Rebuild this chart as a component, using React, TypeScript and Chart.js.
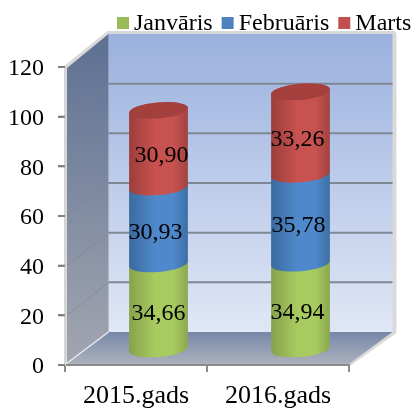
import React, { useEffect, useRef } from "react";
import { Chart, registerables } from "chart.js";

Chart.register(...registerables);

const categories = ["2015.gads", "2016.gads"];
const seriesNames = ["Janvāris", "Februāris", "Marts"];
const janvaris = [34.66, 34.94];
const februaris = [30.93, 35.78];
const marts = [30.9, 33.26];
const seriesValues = [janvaris, februaris, marts];
const legendColors = ["#9bbb59", "#4f81bd", "#c0504d"];
const shades = [
  ["#86a24c", "#a8cb60", "#8aa74f"],
  ["#3a6a9f", "#5089cb", "#3d6fa6"],
  ["#9c3e3b", "#c8524f", "#a04341"],
];
const capColor = "#a33f3c";
const labelNudges = [
  [[0, 0], [-3, 0]],
  [[-3, 0], [-2, 0]],
  [[3, 0], [-3, 0]],
];

const SERIF = "'Liberation Serif', 'Times New Roman', serif";
const DEPTH_X = 43.5;
const DEPTH_Y = 33;
const BAR_DX = 22.5;
const BAR_DY = 15;

const scene = {
  id: "scene3d",
  beforeDraw(chart: any) {
    const { ctx } = chart;
    const yS = chart.scales.y;
    const xS = chart.scales.x;
    const l = xS.left, r = xS.right, t = yS.top, b = yS.bottom;
    const dx = DEPTH_X, dy = DEPTH_Y;
    ctx.save();
    ctx.fillStyle = "#d9d9d9";
    ctx.beginPath();
    ctx.moveTo(l - 1, t - 1);
    ctx.lineTo(l + dx - 1, t - dy - 3);
    ctx.lineTo(r + dx + 2, t - dy - 3);
    ctx.lineTo(r + dx + 4, t - dy - 1);
    ctx.lineTo(r + dx + 4, b - dy + 1);
    ctx.lineTo(r + 1, b + 1);
    ctx.lineTo(l - 1, b + 1);
    ctx.closePath();
    ctx.fill();
    let g = ctx.createLinearGradient(0, t - dy, 0, b - dy);
    g.addColorStop(0, "#9ab1de");
    g.addColorStop(1, "#e0e7f6");
    ctx.fillStyle = g;
    ctx.fillRect(l + dx, t - dy, r - l, b - t);
    g = ctx.createLinearGradient(0, t - dy, 0, b);
    g.addColorStop(0, "#5d7093");
    g.addColorStop(1, "#a3a6b0");
    ctx.fillStyle = g;
    ctx.beginPath();
    ctx.moveTo(l + 2, t + 1);
    ctx.lineTo(l + dx, t - dy);
    ctx.lineTo(l + dx, b - dy);
    ctx.lineTo(l + 2, b);
    ctx.closePath();
    ctx.fill();
    g = ctx.createLinearGradient(0, b - dy, 0, b);
    g.addColorStop(0, "#7688a9");
    g.addColorStop(1, "#aeb2bd");
    ctx.fillStyle = g;
    ctx.beginPath();
    ctx.moveTo(l + 1, b - 1);
    ctx.lineTo(l + dx, b - dy);
    ctx.lineTo(r + dx, b - dy);
    ctx.lineTo(r, b - 1);
    ctx.closePath();
    ctx.fill();
    ctx.strokeStyle = "#e9ebf0";
    ctx.lineWidth = 1.5;
    ctx.beginPath();
    ctx.moveTo(l + 1, b - 1);
    ctx.lineTo(l + dx, b - dy);
    ctx.stroke();
    yS.ticks.forEach((tick: any) => {
      const y = yS.getPixelForValue(tick.value);
      if (tick.value === 0 || tick.value === 120) return;
      ctx.strokeStyle = "#7f8694";
      ctx.lineWidth = 2;
      ctx.beginPath();
      ctx.moveTo(l + dx, y - dy);
      ctx.lineTo(r + dx, y - dy);
      ctx.stroke();
      ctx.strokeStyle = "rgba(125,128,138,0.55)";
      ctx.lineWidth = 1;
      ctx.beginPath();
      ctx.moveTo(l + 2, y);
      ctx.lineTo(l + dx, y - dy);
      ctx.stroke();
    });
    ctx.restore();
  },
  afterDraw(chart: any) {
    const { ctx } = chart;
    const yS = chart.scales.y;
    const l = chart.scales.x.left;
    ctx.save();
    yS.ticks.forEach((tick: any) => {
      const y = yS.getPixelForValue(tick.value);
      ctx.strokeStyle = "#808080";
      ctx.lineWidth = 2;
      ctx.beginPath();
      ctx.moveTo(l - 7, y);
      ctx.lineTo(l, y);
      ctx.stroke();
    });
    ctx.restore();
  },
  beforeDatasetDraw() {
    return false;
  },
  afterDatasetsDraw(chart: any) {
    const { ctx } = chart;
    const rot = (-5 * Math.PI) / 180;
    const ry = 8;
    ctx.save();
    categories.forEach((_, ci) => {
      seriesValues.forEach((_v, si) => {
        const el = chart.getDatasetMeta(si).data[ci];
        const cx = el.x + BAR_DX;
        const yTop = el.y - BAR_DY;
        const yBase = el.base - BAR_DY;
        const rx = el.width / 2;
        const g = ctx.createLinearGradient(cx - rx, 0, cx + rx, 0);
        g.addColorStop(0, shades[si][0]);
        g.addColorStop(0.45, shades[si][1]);
        g.addColorStop(0.75, shades[si][1]);
        g.addColorStop(1, shades[si][2]);
        ctx.fillStyle = g;
        ctx.beginPath();
        ctx.ellipse(cx, yBase, rx, ry, rot, Math.PI, 0, true);
        ctx.ellipse(cx, yTop, rx, ry, rot, 0, Math.PI, true);
        ctx.closePath();
        ctx.fill();
        if (si === seriesValues.length - 1) {
          ctx.fillStyle = capColor;
          ctx.beginPath();
          ctx.ellipse(cx, yTop, rx, ry, rot, 0, Math.PI * 2);
          ctx.fill();
        }
      });
    });
    ctx.fillStyle = "#000";
    ctx.font = `24px ${SERIF}`;
    ctx.textAlign = "center";
    ctx.textBaseline = "middle";
    categories.forEach((_, ci) => {
      seriesValues.forEach((vals, si) => {
        const el = chart.getDatasetMeta(si).data[ci];
        const text = vals[ci].toFixed(2).replace(".", ",");
        const n = labelNudges[si][ci];
        ctx.fillText(text, el.x + BAR_DX + n[0], (el.y + el.base) / 2 - BAR_DY + 7 + n[1]);
      });
    });
    ctx.textAlign = "left";
    ctx.textBaseline = "alphabetic";
    let x = 117;
    seriesNames.forEach((name, i) => {
      ctx.fillStyle = legendColors[i];
      ctx.fillRect(x, 17, 12, 12);
      ctx.fillStyle = "#000";
      ctx.fillText(name, x + 17, 30);
      x += 17 + ctx.measureText(name).width + 9;
    });
    ctx.restore();
  },
};

export default function App() {
  const ref = useRef<HTMLCanvasElement | null>(null);
  useEffect(() => {
    document.body.style.margin = "0";
    const chart = new Chart(ref.current as HTMLCanvasElement, {
      type: "bar",
      data: {
        labels: categories,
        datasets: seriesNames.map((label, i) => ({
          label,
          data: seriesValues[i],
          backgroundColor: legendColors[i],
          barThickness: 59,
        })),
      },
      options: {
        animation: false,
        responsive: false,
        layout: { padding: { top: 67, right: 65, left: 0, bottom: 0 } },
        plugins: { legend: { display: false }, tooltip: { enabled: false } },
        scales: {
          x: {
            stacked: true,
            afterFit: (s: any) => { s.height = 43; },
            grid: { drawOnChartArea: false, color: "#8c8c8c", lineWidth: 2, tickLength: 7 },
            border: { color: "#8c8c8c", width: 2 },
            ticks: { color: "#000", padding: 9, maxRotation: 0, font: { family: SERIF, size: 26 } },
          },
          y: {
            stacked: true,
            min: 0,
            max: 120,
            afterFit: (s: any) => { s.width = 65; },
            grid: { drawOnChartArea: false, color: "#8c8c8c", lineWidth: 2, tickLength: 7 },
            border: { color: "#d4d4d4", width: 2 },
            ticks: { color: "#000", stepSize: 20, padding: 14, labelOffset: 2, font: { family: SERIF, size: 24 } },
          },
        },
      },
      plugins: [scene],
    } as any);
    return () => chart.destroy();
  }, []);
  return (
    <div style={{ width: 414, height: 408 }}>
      <canvas ref={ref} width={414} height={408} style={{ display: "block" }} />
    </div>
  );
}
